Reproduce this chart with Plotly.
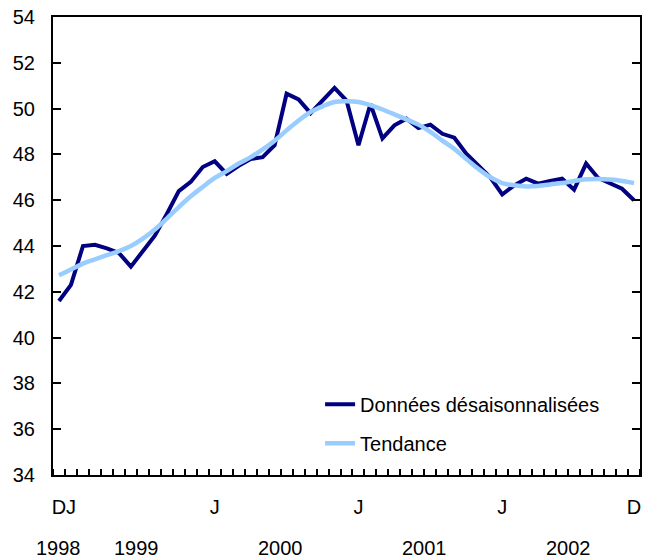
import plotly.graph_objects as go

# Monthly index: 0 = Dec 1998 ... 48 = Dec 2002
months = list(range(49))

donnees = [41.6, 42.3, 44.0, 44.05, 43.9, 43.7, 43.1, 43.8, 44.45, 45.4,
           46.4, 46.8, 47.45, 47.7, 47.15, 47.5, 47.8, 47.88, 48.4, 50.65,
           50.4, 49.8, 50.35, 50.9, 50.35, 48.4, 50.2, 48.7, 49.27, 49.56,
           49.15, 49.3, 48.9, 48.73, 48.03, 47.52, 47.0, 46.25, 46.65, 46.94,
           46.72, 46.84, 46.94, 46.46, 47.6, 46.97, 46.75, 46.5, 46.0]

tendance = [42.72, 42.97, 43.23, 43.42, 43.6, 43.78, 44.0, 44.32, 44.72, 45.2,
            45.7, 46.17, 46.58, 46.97, 47.27, 47.6, 47.88, 48.22, 48.6, 49.05,
            49.48, 49.85, 50.1, 50.29, 50.32, 50.29, 50.15, 49.96, 49.75, 49.53,
            49.3, 48.98, 48.6, 48.24, 47.8, 47.37, 47.0, 46.75, 46.65, 46.6,
            46.62, 46.69, 46.75, 46.84, 46.91, 46.93, 46.9, 46.84, 46.75]

month_tick_pos = [0, 1, 13, 25, 37, 48]
month_tick_text = ["D", "J", "J", "J", "J", "D"]

year_pos = [0, 6.5, 18.5, 30.5, 42.5]
year_text = ["1998", "1999", "2000", "2001", "2002"]

y_ticks = list(range(34, 55, 2))

FONT = "Liberation Sans, Arial, sans-serif"
FS = 20

fig = go.Figure()
fig.add_trace(go.Scatter(x=months, y=donnees, mode="lines",
                         name="Données désaisonnalisées", legendgroup="a",
                         line=dict(color="#000080", width=4)))
fig.add_trace(go.Scatter(x=months, y=tendance, mode="lines",
                         name="Tendance", legendgroup="b",
                         line=dict(color="#99ccff", width=4.5, shape="spline")))

for xp, t in zip(year_pos, year_text):
    fig.add_annotation(x=xp, y=0, xref="x", yref="paper", text=t,
                       showarrow=False, yanchor="middle", xanchor="center",
                       yshift=-73, font=dict(family=FONT, size=FS, color="black"))

fig.update_layout(
    width=648, height=559,
    margin=dict(l=53, r=8, t=17, b=84, autoexpand=False),
    paper_bgcolor="white", plot_bgcolor="white",
    font=dict(family=FONT, size=FS, color="black"),
    showlegend=True,
    legend=dict(x=0.455, y=0.197, xanchor="left", yanchor="top",
                bgcolor="rgba(0,0,0,0)", tracegroupgap=10,
                font=dict(family=FONT, size=FS, color="black")),
    xaxis=dict(range=[-0.5, 48.5], tickvals=month_tick_pos, ticktext=month_tick_text,
               ticks="", showgrid=False, zeroline=False, automargin=False,
               tickangle=0,
               showline=True, linecolor="black", linewidth=2, mirror=True,
               ticklabelstandoff=13,
               minor=dict(tick0=-0.5, dtick=1, ticks="inside", ticklen=6,
                          tickwidth=1.5, tickcolor="black", showgrid=False)),
    yaxis=dict(range=[34, 54], tickvals=y_ticks, ticks="inside", ticklen=8,
               tickwidth=1.5, tickcolor="black", showgrid=False, zeroline=False,
               showline=True, linecolor="black", linewidth=2, mirror="ticks",
               automargin=False, ticklabelstandoff=12),
)

fig.write_html("out.html", config={"displayModeBar": False},
               post_script="document.body.style.margin='0';document.body.style.padding='0';")
